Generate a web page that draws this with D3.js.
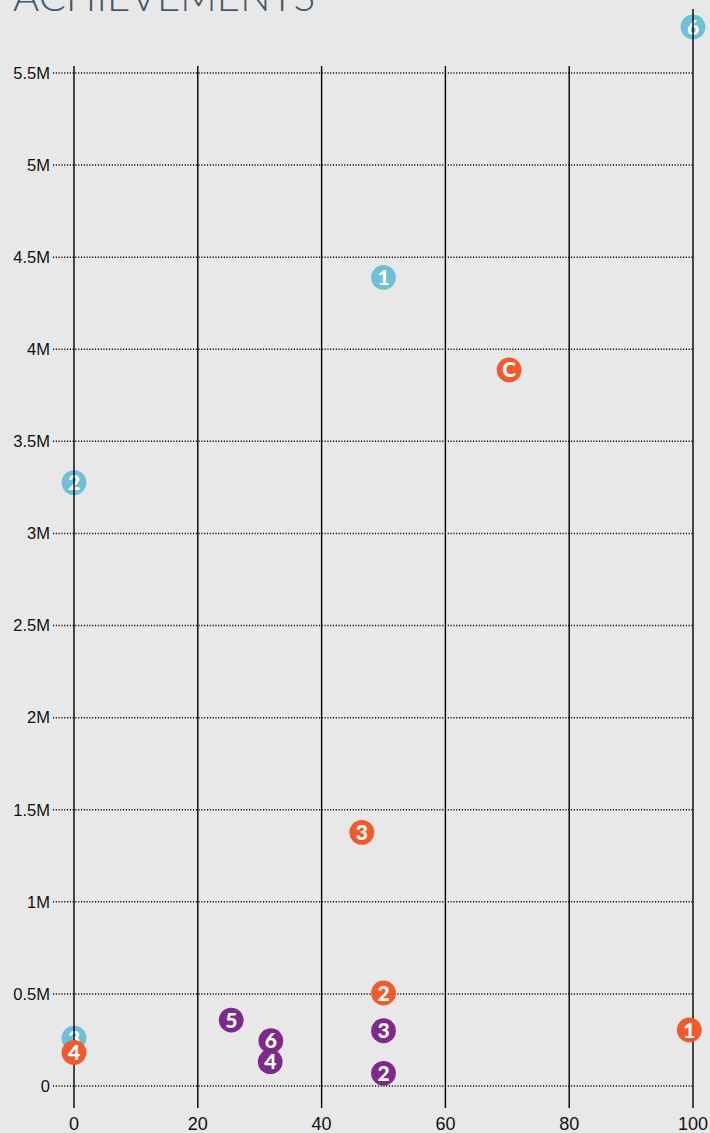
<!DOCTYPE html>
<html>
<head>
<meta charset="utf-8">
<script src="https://cdn.jsdelivr.net/npm/d3@7"></script>
<style>
  html, body { margin: 0; padding: 0; background: #e8e8e8; }
  svg { display: block; }
</style>
</head>
<body>
<svg id="chart" width="710" height="1133"></svg>
<script>
// ---- data ----
const xTicks = [0, 20, 40, 60, 80, 100];
const yTicks = [0, 500000, 1000000, 1500000, 2000000, 2500000, 3000000, 3500000, 4000000, 4500000, 5000000, 5500000];
const yTickLabels = ["0", "0.5M", "1M", "1.5M", "2M", "2.5M", "3M", "3.5M", "4M", "4.5M", "5M", "5.5M"];

const blueLabels = ["1", "2", "3", "6"];
const blueX = [50, 0, 0, 100];
const blueY = [4390000, 3276000, 260000, 5750000];

const orangeLabels = ["C", "3", "2", "1", "4"];
const orangeX = [70.3, 46.5, 50, 99.4, 0];
const orangeY = [3888000, 1377000, 505000, 304000, 182000];

const purpleLabels = ["5", "6", "4", "3", "2"];
const purpleX = [25.4, 31.8, 31.7, 50, 50];
const purpleY = [358000, 246000, 132000, 300000, 69000];

const title = "ACHIEVEMENTS";

// ---- chart ----
const svg = d3.select("#chart");
const x = d3.scaleLinear().domain([0, 100]).range([74, 693]);
const y = d3.scaleLinear().domain([0, 5500000]).range([1086, 73]);

svg.append("text")
  .attr("x", 13).attr("y", 11)
  .attr("font-family", "Lato")
  .attr("font-weight", 300)
  .attr("font-size", 40)
  .attr("letter-spacing", 0.2)
  .attr("fill", "#435669")
  .text(title);

function drawSeries(labels, xs, ys, color) {
  const g = svg.append("g");
  const data = labels.map((l, i) => ({ l, x: xs[i], y: ys[i] }));
  const m = g.selectAll("g").data(data).join("g")
    .attr("transform", d => `translate(${x(d.x)},${y(d.y)})`);
  m.append("circle").attr("r", 12.4).attr("fill", color);
  m.append("text")
    .attr("text-anchor", "middle")
    .attr("dy", "0.36em")
    .attr("font-family", "Lato")
    .attr("font-weight", 900)
    .attr("font-size", 21)
    .attr("fill", "#ffffff")
    .text(d => d.l);
}

// blue markers sit beneath the grid
drawSeries(blueLabels, blueX, blueY, "#6dc0d8");

// horizontal dotted grid + y labels
const yAxis = svg.append("g");
yAxis.selectAll("line").data(yTicks).join("line")
  .attr("x1", 53).attr("x2", x(100))
  .attr("y1", d => y(d)).attr("y2", d => y(d))
  .attr("stroke", "#000").attr("stroke-width", 1.5)
  .attr("stroke-dasharray", "1.1,1.7");
yAxis.selectAll("text").data(yTicks).join("text")
  .attr("x", 50).attr("y", d => y(d)).attr("dy", "0.35em")
  .attr("text-anchor", "end")
  .attr("font-family", "Liberation Sans, Arial, sans-serif")
  .attr("font-size", 16.5)
  .attr("fill", "#111")
  .text((d, i) => yTickLabels[i]);

// vertical solid grid + x labels
const xAxis = svg.append("g");
xAxis.selectAll("line").data(xTicks).join("line")
  .attr("x1", d => x(d)).attr("x2", d => x(d))
  .attr("y1", d => d === 100 ? 9 : 66).attr("y2", 1108)
  .attr("stroke", "#000").attr("stroke-width", 1.4);
xAxis.selectAll("text").data(xTicks).join("text")
  .attr("x", d => x(d)).attr("y", 1130)
  .attr("text-anchor", "middle")
  .attr("font-family", "Liberation Sans, Arial, sans-serif")
  .attr("font-size", 18)
  .attr("fill", "#111")
  .text(d => d);

drawSeries(purpleLabels, purpleX, purpleY, "#7d2a8b");
drawSeries(orangeLabels, orangeX, orangeY, "#f15b2c");
</script>
</body>
</html>
